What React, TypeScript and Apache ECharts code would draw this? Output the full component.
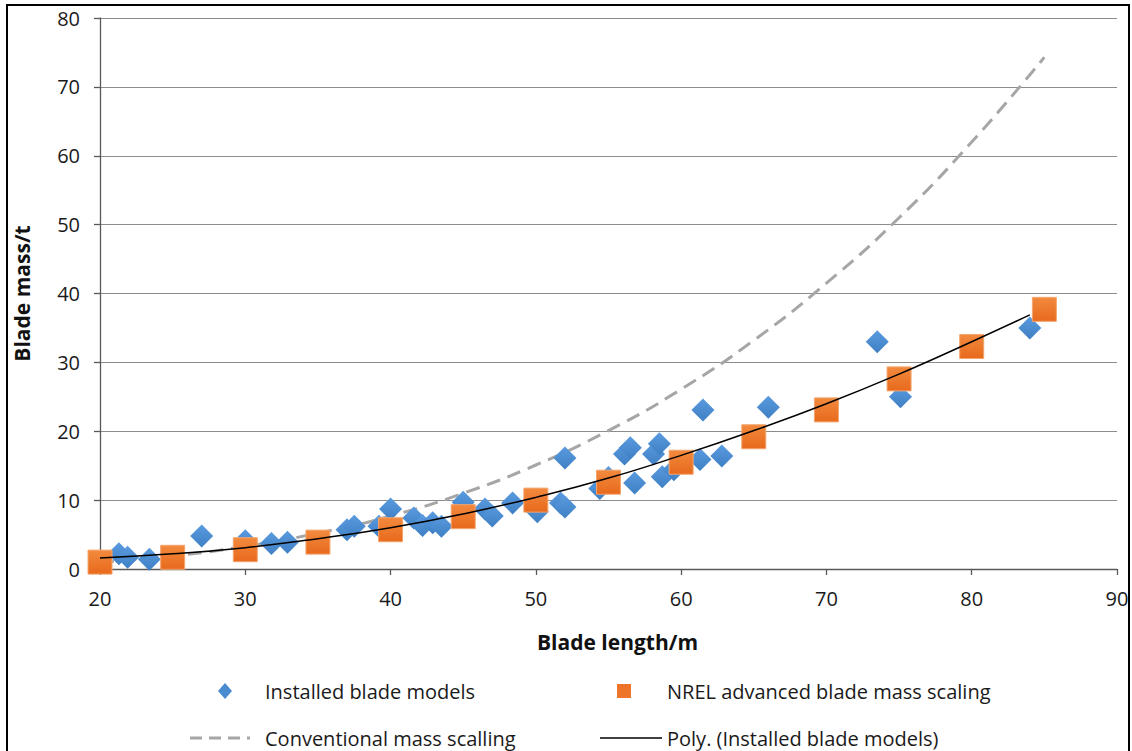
import React, { useEffect, useRef } from "react";
import * as echarts from "echarts";

// Installed blade models (length m, mass t)
const installedLength = [21.3, 21.9, 23.4, 27.0, 30.0, 31.8, 32.9, 37.0, 37.5, 39.2, 40.0, 41.6, 42.2, 42.9, 43.5, 45.0, 46.5, 47.0, 48.4, 50.1, 51.7, 52.0, 52.0, 54.4, 55.0, 56.1, 56.5, 56.8, 58.1, 58.5, 58.7, 59.5, 61.3, 61.5, 62.8, 66.0, 73.5, 75.1, 84.0];
const installedMass = [2.2, 1.7, 1.4, 4.8, 4.1, 3.7, 3.9, 5.7, 6.2, 6.2, 8.7, 7.4, 6.3, 6.7, 6.2, 9.7, 8.7, 7.7, 9.6, 8.3, 9.6, 9.0, 16.1, 11.7, 13.3, 16.7, 17.6, 12.5, 16.7, 18.2, 13.4, 14.4, 15.9, 23.1, 16.4, 23.5, 33.0, 25.0, 35.0];

// NREL advanced blade mass scaling
const nrelLength = [20, 25, 30, 35, 40, 45, 50, 55, 60, 65, 70, 75, 80, 85];
const nrelMass = [1.0, 1.7, 2.8, 3.9, 5.7, 7.6, 10.0, 12.6, 15.5, 19.2, 23.1, 27.6, 32.3, 37.7];

// Conventional mass scalling
const convLength = [20, 25, 30, 35, 40, 45, 50, 55, 60, 65, 70, 75, 80, 85];
const convMass = [1.0, 1.9, 3.3, 5.2, 7.7, 11.0, 15.1, 20.1, 26.1, 33.2, 41.5, 51.0, 62.0, 74.3];

// Poly. trend line
const polyLength = [20, 25, 30, 35, 40, 45, 50, 55, 60, 65, 70, 75, 80, 84];
const polyMass = [1.6, 2.2, 3.1, 4.4, 6.0, 8.0, 10.4, 13.2, 16.5, 20.1, 24.0, 28.3, 33.0, 36.9];

const xTicks = [20, 30, 40, 50, 60, 70, 80, 90];
const yTicks = [0, 10, 20, 30, 40, 50, 60, 70, 80];

const legendNames = [
  "Installed blade models",
  "NREL advanced blade mass scaling",
  "Conventional mass scalling",
  "Poly. (Installed blade models)",
];

const FONT = "'Open Sans', 'Noto Sans', sans-serif";
const BLUE = "#4a8bd0";
const ORANGE = "#ed7428";

const pairs = (xs: number[], ys: number[]) => xs.map((x, i) => [x, ys[i]]);

export default function App() {
  const ref = useRef<HTMLDivElement>(null);
  useEffect(() => {
    if (!ref.current) return;
    const chart = echarts.init(ref.current, undefined, { renderer: "svg" });
    const textStyle = { fontFamily: FONT, fontSize: 20, fill: "#1a1a1a" };
    const blueGrad = new echarts.graphic.LinearGradient(0, 0, 0, 1, [
      { offset: 0, color: "#5a9be0" },
      { offset: 1, color: "#3f7fc4" },
    ]);
    const orangeGrad = new echarts.graphic.LinearGradient(0, 0, 0, 1, [
      { offset: 0, color: "#f28a3e" },
      { offset: 1, color: "#e8691c" },
    ]);
    chart.setOption({
      animation: false,
      backgroundColor: "#ffffff",
      textStyle: { fontFamily: FONT },
      grid: { left: 100, top: 18, right: 15, bottom: 182, containLabel: false },
      xAxis: {
        type: "value",
        min: xTicks[0],
        max: xTicks[xTicks.length - 1],
        interval: 10,
        name: "Blade length/m",
        nameLocation: "middle",
        nameGap: 62,
        nameTextStyle: { fontFamily: FONT, fontWeight: "bold", fontSize: 21, color: "#111", padding: [0, 0, 0, 18] },
        axisLine: { show: true, lineStyle: { color: "#595959", width: 1.3 } },
        axisTick: { show: true, length: 6, inside: false, lineStyle: { color: "#595959", width: 1.3 } },
        axisLabel: { fontFamily: FONT, fontSize: 20, color: "#1a1a1a", margin: 19 },
        splitLine: { show: false },
      },
      yAxis: {
        type: "value",
        min: yTicks[0],
        max: yTicks[yTicks.length - 1],
        interval: 10,
        name: "Blade mass/t",
        nameLocation: "middle",
        nameGap: 68,
        nameRotate: 90,
        nameTextStyle: { fontFamily: FONT, fontWeight: "bold", fontSize: 21, color: "#111", padding: [0, 0, 0, 0] },
        axisLine: { show: true, lineStyle: { color: "#595959", width: 1.3 } },
        axisTick: { show: true, length: 6, inside: false, lineStyle: { color: "#595959", width: 1.3 } },
        axisLabel: { fontFamily: FONT, fontSize: 20, color: "#1a1a1a", margin: 20 },
        splitLine: { show: true, lineStyle: { color: "#8c8c8c", width: 1.2 } },
      },
      series: [
        {
          name: legendNames[2],
          type: "line",
          data: pairs(convLength, convMass),
          smooth: true,
          symbol: "none",
          lineStyle: { color: "#a6a6a6", width: 3, type: [14, 8] },
          z: 2,
        },
        {
          name: legendNames[0],
          type: "scatter",
          data: pairs(installedLength, installedMass),
          symbol: "diamond",
          symbolSize: 23,
          itemStyle: { color: blueGrad, opacity: 1 },
          z: 3,
        },
        {
          name: legendNames[1],
          type: "scatter",
          data: pairs(nrelLength, nrelMass),
          symbol: "rect",
          symbolSize: 24,
          itemStyle: { color: orangeGrad, borderColor: "#f3a56f", borderWidth: 1, opacity: 1 },
          z: 4,
        },
        {
          name: legendNames[3],
          type: "line",
          data: pairs(polyLength, polyMass),
          smooth: true,
          symbol: "none",
          lineStyle: { color: "#000000", width: 1.5 },
          z: 5,
        },
      ],
      graphic: [
        {
          type: "rect",
          shape: { x: 7, y: 5, width: 1122, height: 800 },
          style: { fill: "none", stroke: "#000", lineWidth: 2 },
          silent: true,
        },
        {
          type: "polygon",
          shape: { points: [[225, 683], [232, 691], [225, 699], [218, 691]] },
          style: { fill: BLUE },
        },
        { type: "text", x: 265, y: 691, style: { ...textStyle, text: legendNames[0], verticalAlign: "middle" } },
        {
          type: "rect",
          shape: { x: 617, y: 684, width: 14, height: 14 },
          style: { fill: ORANGE },
        },
        { type: "text", x: 667, y: 691, style: { ...textStyle, text: legendNames[1], verticalAlign: "middle" } },
        {
          type: "line",
          shape: { x1: 190, y1: 738, x2: 250, y2: 738 },
          style: { stroke: "#a6a6a6", lineWidth: 3, lineDash: [12, 7] },
        },
        { type: "text", x: 265, y: 738, style: { ...textStyle, text: legendNames[2], verticalAlign: "middle" } },
        {
          type: "line",
          shape: { x1: 600, y1: 738, x2: 662, y2: 738 },
          style: { stroke: "#000", lineWidth: 1.5 },
        },
        { type: "text", x: 667, y: 738, style: { ...textStyle, text: legendNames[3], verticalAlign: "middle" } },
      ],
    });
    return () => chart.dispose();
  }, []);
  return (
    <div
      ref={ref}
      style={{ position: "absolute", left: 0, top: 0, width: 1132, height: 751, background: "#fff" }}
    />
  );
}
